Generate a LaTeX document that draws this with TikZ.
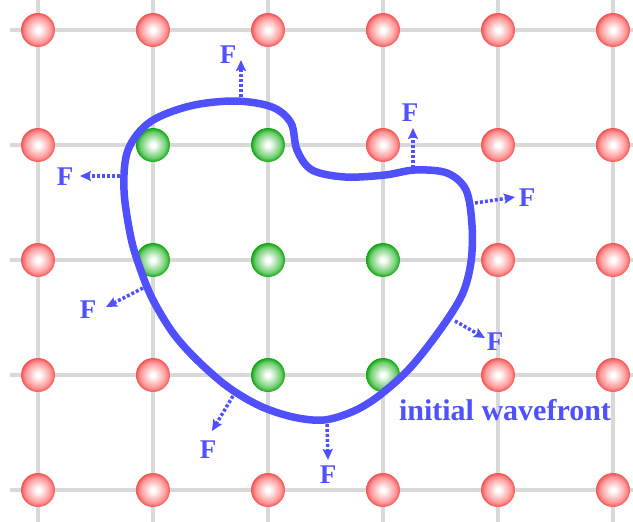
\documentclass[tikz,border=0pt]{standalone}
\usepackage{fontspec}
\setmainfont{Liberation Serif}
\usetikzlibrary{arrows.meta}
\usepackage{xcolor}

\definecolor{wave}{RGB}{80,80,255}
\definecolor{gridgray}{RGB}{217,217,217}
\definecolor{redrim}{RGB}{240,85,85}
\definecolor{redmid}{RGB}{255,150,150}
\definecolor{greenrim}{RGB}{15,165,15}
\definecolor{greenmid}{RGB}{110,205,110}
\pgfdeclareradialshading{redshade}{\pgfpoint{0bp}{0bp}}{color(0bp)=(white); color(3bp)=(white); color(19bp)=(redmid); color(25bp)=(redrim); color(50bp)=(redrim)}
\pgfdeclareradialshading{greenshade}{\pgfpoint{0bp}{0bp}}{color(0bp)=(white); color(3bp)=(white); color(19bp)=(greenmid); color(25bp)=(greenrim); color(50bp)=(greenrim)}

\begin{document}
\begin{tikzpicture}[
    x=1pt, y=-1pt,
    every node/.style={font=\bfseries\fontsize{27}{31}\selectfont, text=wave},
    gridline/.style={draw=gridgray, line width=4pt},
    redball/.style={circle, inner sep=0pt, minimum size=34pt, shading=redshade},
    greenball/.style={circle, inner sep=0pt, minimum size=34pt, shading=greenshade},
    wavefront/.style={draw=wave, line width=7.5pt},
    farrow/.style={draw=wave, line width=3.5pt, dash pattern=on 3pt off 2pt, -{Stealth[length=11pt, width=10pt, inset=2pt]}}
  ]
  \useasboundingbox (0,0) rectangle (633,522);

  % grid
  \foreach \x in {38,153,...,613} \draw[gridline] (\x,0) -- (\x,522);
  \foreach \y in {30,145,...,490} \draw[gridline] (10,\y) -- (633,\y);

  % balls
  \foreach \c/\r in {1/1,2/1,3/1,4/1,5/1,6/1, 1/2,4/2,5/2,6/2, 1/3,5/3,6/3, 1/4,2/4,5/4,6/4, 1/5,2/5,3/5,4/5,5/5,6/5}
    \node[redball] (ball-\c-\r) at ({38+115*(\c-1)},{30+115*(\r-1)}) {};
  \foreach \c/\r in {2/2,3/2, 2/3,3/3,4/3, 3/4,4/4}
    \node[greenball] (ball-\c-\r) at ({38+115*(\c-1)},{30+115*(\r-1)}) {};

  % initial wavefront
  \draw[wavefront] plot[smooth cycle, tension=0.55] coordinates {
    (124,190) (128,150) (150,122) (190,106) (235,101) (272,107) (291,123)
    (297,150) (312,170) (345,177) (385,175) (415,170) (447,173) (466,190)
    (472,225) (471,262) (462,295) (440,330) (410,368) (380,395) (354,411)
    (324,420) (293,417) (260,406) (228,387) (197,360) (173,333) (153,300)
    (141,271) (131,238)};

  % speed arrows
  \coordinate (s1) at (241,97);  \coordinate (t1) at (241,60);
  \coordinate (s2) at (120,176); \coordinate (t2) at (80,176);
  \coordinate (s3) at (143,288); \coordinate (t3) at (106,307);
  \coordinate (s4) at (233,396); \coordinate (t4) at (212,431);
  \coordinate (s5) at (327,424); \coordinate (t5) at (328,460);
  \coordinate (s6) at (455,321); \coordinate (t6) at (485,338);
  \coordinate (s7) at (475,203); \coordinate (t7) at (515,197);
  \coordinate (s8) at (413,168); \coordinate (t8) at (413,128);
  \foreach \i in {1,...,8} \draw[farrow] (s\i) -- (t\i);

  \node (f1) at (228,55) {F};
  \node (f2) at (65,177) {F};
  \node (f3) at (88,310) {F};
  \node (f4) at (208,450) {F};
  \node (f5) at (328,475) {F};
  \node (f6) at (495,342) {F};
  \node (f7) at (527,198) {F};
  \node (f8) at (410,113) {F};

  \node[anchor=base, font=\bfseries\fontsize{30}{34}\selectfont] (label) at (505,420) {initial wavefront};
\end{tikzpicture}
\end{document}
